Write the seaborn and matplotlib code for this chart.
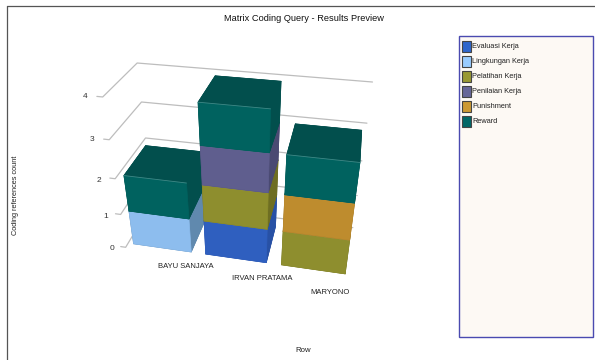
import numpy as np
import pandas as pd
import matplotlib
matplotlib.use('Agg')
import matplotlib.pyplot as plt
from matplotlib.patches import Rectangle
from matplotlib.lines import Line2D
import seaborn as sns

# Coding reference counts per person and node
people = ['BAYU SANJAYA', 'IRVAN PRATAMA', 'MARYONO']
nodes = ['Evaluasi Kerja', 'Lingkungan Kerja', 'Pelatihan Kerja',
         'Penilaian Kerja', 'Punishment', 'Reward']
evaluasi = [0, 1, 0]
lingkungan = [1, 0, 0]
pelatihan = [0, 1, 1]
penilaian = [0, 1, 0]
punishment = [0, 0, 1]
reward = [1, 1, 1]
z_ticks = [0, 1, 2, 3, 4]

front_colors = ['#2F5FBF', '#8DBDEE', '#8E8E2E', '#5F5E8E', '#BE8C2E', '#00625F']
side_colors = ['#2851A5', '#6089AE', '#6E6E22', '#4A4A72', '#946C22', '#024F4D']
top_colors = ['#2851A5', '#7AA5D0', '#767626', '#525280', '#A07626', '#024F4D']
legend_colors = ['#2F66CC', '#99CCFF', '#999933', '#666699', '#CC9933', '#006666']

table = pd.DataFrame([evaluasi, lingkungan, pelatihan, penilaian, punishment, reward],
                     index=nodes, columns=people)

sns.set_theme(style='white', rc={'font.family': ['Liberation Sans', 'DejaVu Sans']})

W, H = 595, 360


def at(x, y):
    """Figure fraction for a position given in pixels from the top left."""
    return x / W, 1 - y / H


fig = plt.figure(figsize=(W / 100, H / 100), dpi=100, facecolor='white')
ax = fig.add_axes([-57.43 / W, 11.85 / H, 1, 1], projection='3d')
ax.set_axis_off()
ax.patch.set_alpha(0)
ax.computed_zorder = False
ax.view_init(32.0, -78.2)
ax.set_proj_type('persp', focal_length=0.278)
ax.set_box_aspect((1, 0.243, 0.729), zoom=0.799)
ax.set_xlim(0, 3)
ax.set_ylim(0, 1)
ax.set_zlim(0, 4)

# Chart floor and wall geometry in data units
bar_w, wall_x, end_x, front_y, y0, y1 = 0.803, 0.022, 2.96, -0.422, -0.301, 0.727

# Grid lines run along the left wall, then across the back wall
for z in z_ticks:
    ax.plot([wall_x - 0.07, wall_x, wall_x, end_x], [front_y] * 2 + [1, 1], [z] * 4,
            color='#BDBDBD', lw=0.9, zorder=1)

# Stacked columns, back to front and bottom to top
order = 2
for i, person in enumerate(people):
    base = 0
    left = i + (1 - bar_w) / 2
    for j, node in enumerate(nodes):
        h = table.loc[node, person]
        if h == 0:
            continue
        faces = [side_colors[j], top_colors[j], front_colors[j],
                 side_colors[j], side_colors[j], side_colors[j]]
        ax.bar3d(left, y0, base, bar_w, y1 - y0, h, color=faces, shade=False,
                 edgecolor=faces, linewidth=0.5, zorder=order)
        order += 1
        base += h
        ax.plot([left, left + bar_w], [y0, y0], [base, base], color='white',
                alpha=0.25, lw=0.6, zorder=order)
        order += 1

# Axis labels placed beside the 3D scene
tick_label_px = [(111.5, 249), (105.5, 216), (99, 180), (92, 140), (85, 96)]
for z, (px, py) in zip(z_ticks, tick_label_px):
    fig.text(*at(px, py), str(z), fontsize=6, color='#333333', ha='center', va='center')

person_label_px = [(186, 267), (262, 279), (330, 293)]
for person, (px, py) in zip(people, person_label_px):
    fig.text(*at(px, py), person, fontsize=5.5, color='#222222', ha='center', va='center')

# Outer chart frame
fig.add_artist(Line2D([6.5 / W, 6.5 / W], [0, 1 - 5.5 / H], color='#555555', lw=0.9))
fig.add_artist(Line2D([6.5 / W, 1], [1 - 5.5 / H] * 2, color='#555555', lw=0.9))

fig.text(*at(303.5, 18.5), 'Matrix Coding Query - Results Preview', fontsize=6.7,
         ha='center', va='center', color='#111111')
fig.text(*at(16, 195), 'Coding references count', fontsize=5.3, rotation=90,
         ha='center', va='center', color='#222222')
fig.text(*at(303.5, 350), 'Row', fontsize=5.6, ha='center', va='center', color='#222222')

# Legend panel
fig.add_artist(Rectangle(at(458.5, 336.5), 134 / W, 300.5 / H, transform=fig.transFigure,
                         facecolor='#FDF9F4', edgecolor='#4A4AB0', lw=1.0))
for j, node in enumerate(nodes):
    yc = 46 + j * 15.1
    fig.add_artist(Rectangle(at(461.5, yc + 5.5), 9.5 / W, 11 / H,
                             transform=fig.transFigure, facecolor=legend_colors[j],
                             edgecolor='#444444', lw=0.8))
    fig.text(*at(472, yc), node, fontsize=5.3, ha='left', va='center', color='#222222')

fig.savefig('out.png', dpi=100)
